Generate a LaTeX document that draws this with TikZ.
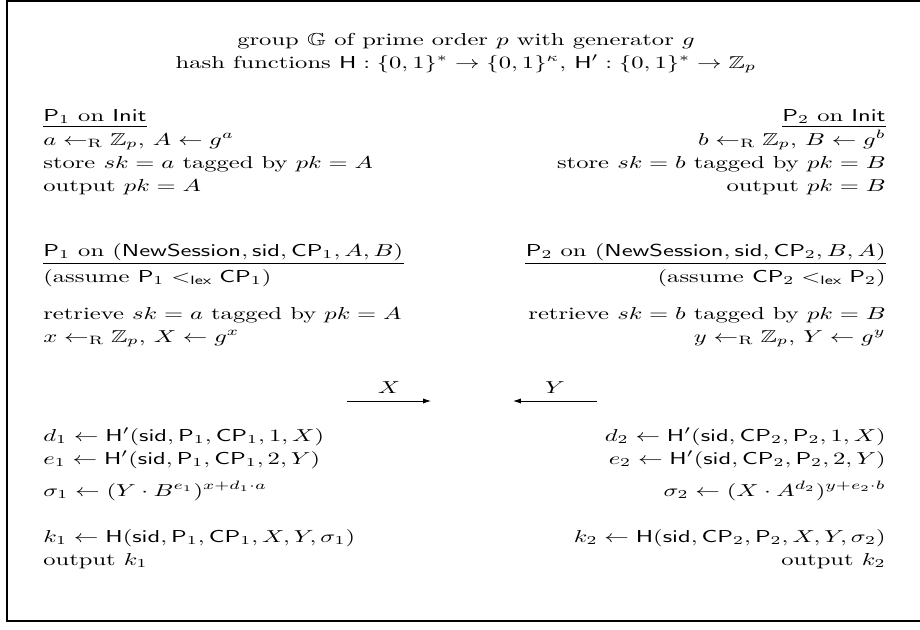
\documentclass[tikz,border=0pt]{standalone}
\usepackage{amsmath,amssymb}
\usepackage{graphicx}
\usetikzlibrary{arrows.meta,calc}
\newcommand\sx[1]{\scalebox{1.42}[1]{#1}}
\newcommand\sfP{\mathsf{P}}
\newcommand\sfCP{\mathsf{CP}}
\newcommand\sfH{\mathsf{H}}
\newcommand\sid{\mathsf{sid}}
\newcommand\rnd{\leftarrow_{\mathrm{R}}}
\tikzset{
  L/.style={anchor=base west,inner sep=0pt},
  R/.style={anchor=base east,inner sep=0pt},
  C/.style={anchor=base,inner sep=0pt},
  rul/.style={line width=0.55pt},
  msg/.style={-{Latex[length=4.6pt,width=3pt]},line width=0.5pt},
  frame/.style={line width=0.85pt}
}
\begin{document}
\begin{tikzpicture}[x=0.578pt,y=-0.578pt]
\useasboundingbox (0,0) rectangle (920,629);
\draw[frame] (930,1) -- (7,1) -- (7,621) -- (930,621);

% header
\node[C] (t1) at (466,45) {\sx{group $\mathbb{G}$ of prime order $p$ with generator $g$}};
\node[C] (t2) at (466,68) {\sx{hash functions $\sfH:\{0,1\}^*\to\{0,1\}^\kappa$, $\sfH':\{0,1\}^*\to\mathbb{Z}_p$}};

% left: init
\node[L] (l1) at (43,121) {\sx{$\sfP_1$ on $\mathsf{Init}$}};
\node[L] (l2) at (43,145) {\sx{$a\rnd\mathbb{Z}_p$, $A\leftarrow g^a$}};
\node[L] (l3) at (43,168) {\sx{store $sk=a$ tagged by $pk=A$}};
\node[L] (l4) at (43,191) {\sx{output $pk=A$}};
% right: init
\node[R] (r1) at (886,121) {\sx{$\sfP_2$ on $\mathsf{Init}$}};
\node[R] (r2) at (886,145) {\sx{$b\rnd\mathbb{Z}_p$, $B\leftarrow g^b$}};
\node[R] (r3) at (886,168) {\sx{store $sk=b$ tagged by $pk=B$}};
\node[R] (r4) at (886,191) {\sx{output $pk=B$}};

% left: session
\node[L] (l5) at (43,256) {\sx{$\sfP_1$ on $(\mathsf{NewSession},\sid,\sfCP_1,A,B)$}};
\node[L] (l6) at (43,282) {\sx{(assume $\sfP_1<_{\mathsf{lex}}\sfCP_1$)}};
\node[L] (l7) at (43,319) {\sx{retrieve $sk=a$ tagged by $pk=A$}};
\node[L] (l8) at (43,342) {\sx{$x\rnd\mathbb{Z}_p$, $X\leftarrow g^x$}};
\node[L] (l9) at (43,441) {\sx{$d_1\leftarrow\sfH'(\sid,\sfP_1,\sfCP_1,1,X)$}};
\node[L] (l10) at (43,464) {\sx{$e_1\leftarrow\sfH'(\sid,\sfP_1,\sfCP_1,2,Y)$}};
\node[L] (l11) at (43,496) {\sx{$\sigma_1\leftarrow(Y\cdot B^{e_1})^{x+d_1\cdot a}$}};
\node[L] (l12) at (43,542) {\sx{$k_1\leftarrow\sfH(\sid,\sfP_1,\sfCP_1,X,Y,\sigma_1)$}};
\node[L] (l13) at (43,565) {\sx{output $k_1$}};
% right: session
\node[R] (r5) at (886,256) {\sx{$\sfP_2$ on $(\mathsf{NewSession},\sid,\sfCP_2,B,A)$}};
\node[R] (r6) at (886,282) {\sx{(assume $\sfCP_2<_{\mathsf{lex}}\sfP_2$)}};
\node[R] (r7) at (886,319) {\sx{retrieve $sk=b$ tagged by $pk=B$}};
\node[R] (r8) at (886,342) {\sx{$y\rnd\mathbb{Z}_p$, $Y\leftarrow g^y$}};
\node[R] (r9) at (886,441) {\sx{$d_2\leftarrow\sfH'(\sid,\sfCP_2,\sfP_2,1,X)$}};
\node[R] (r10) at (886,464) {\sx{$e_2\leftarrow\sfH'(\sid,\sfCP_2,\sfP_2,2,Y)$}};
\node[R] (r11) at (886,496) {\sx{$\sigma_2\leftarrow(X\cdot A^{d_2})^{y+e_2\cdot b}$}};
\node[R] (r12) at (886,542) {\sx{$k_2\leftarrow\sfH(\sid,\sfCP_2,\sfP_2,X,Y,\sigma_2)$}};
\node[R] (r13) at (886,565) {\sx{output $k_2$}};

% rules
\draw[rul] ($(l1.south west)+(0,2.5)$) -- ($(l1.south east)+(0,2.5)$);
\draw[rul] ($(r1.south west)+(0,2.5)$) -- ($(r1.south east)+(0,2.5)$);
\draw[rul] ($(l5.south west)+(0,2.5)$) -- ($(l5.south east)+(0,2.5)$);
\draw[rul] ($(r5.south west)+(0,2.5)$) -- ($(r5.south east)+(0,2.5)$);

% messages
\coordinate (xs) at (347,401);
\coordinate (xe) at (431,401);
\coordinate (ys) at (597,401);
\coordinate (ye) at (513,401);
\draw[msg] (xs) -- node[above=4pt,inner sep=0pt] (xl) {\sx{$X$}} (xe);
\draw[msg] (ys) -- node[above=4pt,inner sep=0pt] (yl) {\sx{$Y$}} (ye);
\end{tikzpicture}
\end{document}
